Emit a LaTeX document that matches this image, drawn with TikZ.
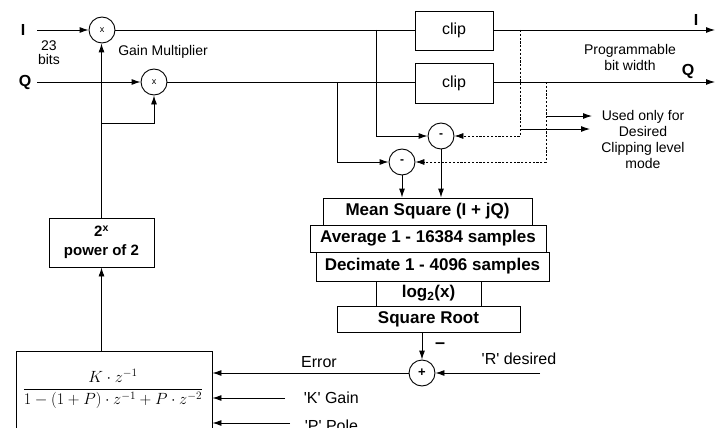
\documentclass[tikz,border=0pt]{standalone}
\usepackage{fontspec}
\setmainfont{Liberation Sans}
\newfontfamily\plainsans{Liberation Sans}
\usetikzlibrary{arrows.meta}
\begin{document}
\begin{tikzpicture}[x=1pt,y=-1pt,line width=0.9pt,
  >={Latex[length=9pt,width=6pt]},
  lbl/.style={font=\fontsize{14}{16}\selectfont, align=center},
  biglbl/.style={font=\plainsans\fontsize{16}{18}\selectfont},
  iq/.style={font=\bfseries\fontsize{16}{18}\selectfont},
  blk/.style={draw, inner sep=0pt, font=\bfseries\fontsize{17}{19}\selectfont},
  clipbox/.style={draw, inner sep=0pt, minimum width=78pt, minimum height=39pt, font=\fontsize{16}{18}\selectfont},
  opc/.style={circle, draw, minimum size=26pt, inner sep=0pt},
  dsh/.style={dash pattern=on 2.2pt off 1.6pt, line width=0.7pt}]
\clip (0,0) rectangle (720,428);
\useasboundingbox (0,0) rectangle (720,428);
% inputs
\node[iq] (lI) at (23,30) {I};
\node[iq] (lQ) at (25,82) {Q};
\coordinate (inI) at (37,30);
\coordinate (inQ) at (37,82);
\node[lbl, align=center] (bits) at (49,53) {23\\[-2pt]bits};
% multipliers
\node[opc, font=\fontsize{9}{10}\selectfont] (mulI) at (102,30) {x};
\node[opc, font=\fontsize{9}{10}\selectfont] (mulQ) at (154,82) {x};
\node[lbl] (gm) at (163,52) {Gain Multiplier};
\draw[->] (inI) -- (mulI);
\draw[->] (inQ) -- (mulQ);
% clip blocks
\node[clipbox] (clipI) at (454,30.5) {clip};
\node[clipbox, minimum height=40pt] (clipQ) at (454,83) {clip};
\coordinate (outI) at (715,30);
\coordinate (outQ) at (715,82);
\draw (mulI) -- (clipI.west |- mulI);
\draw (mulQ) -- (clipQ.west |- mulQ);
\draw[->] (clipI.east |- outI) -- (outI);
\draw[->] (clipQ.east |- outQ) -- (outQ);
\node[iq] (oI) at (696,20) {I};
\node[iq] (oQ) at (688,71) {Q};
\node[lbl] (pbw) at (630,57) {Programmable\\bit width};
% subtractors
\node[opc, font=\bfseries\fontsize{12}{12}\selectfont] (subA) at (441,136) {-};
\node[opc, font=\bfseries\fontsize{12}{12}\selectfont] (subB) at (402,162) {-};
\coordinate (tapI) at (376,30);
\coordinate (tapQ) at (337,82);
\draw[->] (tapI) |- (subA.west);
\draw[->] (tapQ) |- (subB.west);
\coordinate (dI) at (520,30);
\coordinate (dQ) at (546,82);
\draw[dsh, -{Latex[length=9pt,width=6pt]}] (dI) |- (subA.east);
\draw[dsh, -{Latex[length=9pt,width=6pt]}] (dQ) |- (subB.east);
\coordinate (uA) at (520,129);
\coordinate (uAe) at (590,129);
\coordinate (uB) at (546,116);
\coordinate (uBe) at (592,116);
\draw[->] (uA) -- (uAe);
\draw[->] (uB) -- (uBe);
\node[lbl] (used) at (643,139.5) {Used only for\\Desired\\Clipping level\\mode};
% processing chain
\node[blk, minimum width=209pt, minimum height=27pt] (ms) at (427.5,211.5) {Mean Square (I + jQ)};
\node[blk, minimum width=236pt, minimum height=27pt] (avg) at (428,238.5) {Average 1 - 16384 samples};
\node[blk, minimum width=233pt, minimum height=29pt] (dec) at (432.5,266.5) {Decimate 1 - 4096 samples};
\node[blk, minimum width=105pt, minimum height=25pt] (lg) at (428.5,293.5) {log$_{\mathbf{2}}$(x)};
\node[blk, minimum width=183pt, minimum height=26pt] (sq) at (428.5,319) {Square Root};
\draw[->] (subA) -- (subA |- ms.north);
\draw[->] (subB) -- (subB |- ms.north);
% summing node
\node[opc, font=\bfseries\fontsize{13}{13}\selectfont] (sum) at (422,373) {+};
\draw[->] (sq.south -| sum) -- (sum);
\node[font=\bfseries\fontsize{18}{18}\selectfont] (minus) at (440,346) {\textbf{\char"2013}};
\coordinate (rin) at (540,373);
\draw[->] (rin) -- (sum);
\node[biglbl] (rlab) at (519,359) {'R' desired};
% loop filter
\node[draw, minimum width=196pt, minimum height=110pt, anchor=north] (filt) at (114,351) {};
\node (frac) at (113,389) {\scalebox{0.94}{\fontsize{17}{20}\selectfont$\displaystyle\frac{K\cdot z^{-1}}{1-\left(1+P\right)\cdot z^{-1}+P\cdot z^{-2}}$}};
\draw[->] (sum) -- (sum -| filt.east);
\node[biglbl] (err) at (319,362) {Error};
\coordinate (kin) at (285,398);
\coordinate (pin) at (290,423);
\draw[->] (kin) -- (kin -| filt.east);
\draw[->] (pin) -- (pin -| filt.east);
\node[biglbl, anchor=west] (klab) at (300,398) {'K' Gain};
\node[biglbl, anchor=west] (plab) at (301,426) {'P' Pole};
% power of 2
\node[draw, minimum width=105pt, minimum height=49pt, align=center, inner sep=0pt,
      font=\bfseries\fontsize{15}{19}\selectfont] (pow) at (101.5,242.5) {2$^{\mathbf{x}}$\\power of 2};
\draw[->] (filt.north -| pow) -- (pow.south);
\draw[->] (pow.north) -- (mulI.south -| pow.north);
\coordinate (brQ) at (101.5,123);
\draw[->] (brQ) -| (mulQ.south);
\end{tikzpicture}
\end{document}
